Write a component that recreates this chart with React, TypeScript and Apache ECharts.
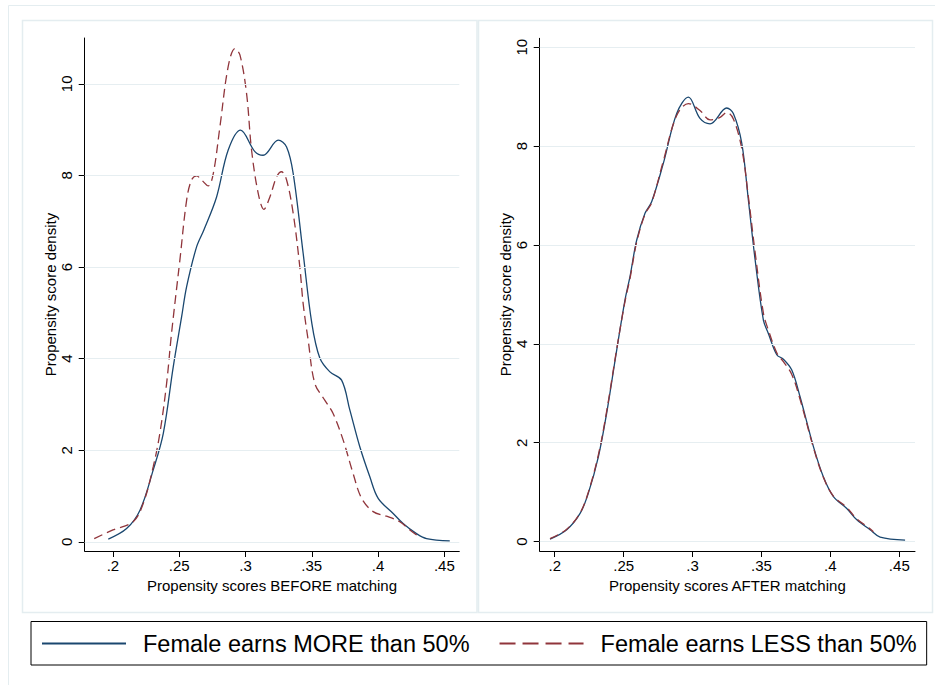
import React, { useEffect, useRef } from 'react';
import * as echarts from 'echarts';

const SERIES_NAMES = ['Female earns MORE than 50%', 'Female earns LESS than 50%'];
const X_TITLES = ['Propensity scores BEFORE matching', 'Propensity scores AFTER matching'];
const Y_TITLE = 'Propensity score density';
const X_TICKS = [0.2, 0.25, 0.3, 0.35, 0.4, 0.45];
const Y_TICKS = [0, 2, 4, 6, 8, 10];

// BEFORE matching
const BEFORE_MORE: [number, number][] = [
  [0.1965, 0.06], [0.2103, 0.29], [0.2204, 0.69], [0.2304, 1.57], [0.238, 2.37], [0.2455, 3.82],
  [0.2518, 4.91], [0.2556, 5.57], [0.2631, 6.44], [0.2686, 6.81], [0.2782, 7.53], [0.2869, 8.55],
  [0.2963, 8.99], [0.3071, 8.52], [0.3133, 8.44], [0.3247, 8.77], [0.331, 8.62], [0.336, 8.04],
  [0.3435, 6.3], [0.35, 4.78], [0.356, 4.02], [0.3637, 3.71], [0.3725, 3.53], [0.3787, 2.88],
  [0.3863, 2.07], [0.3938, 1.42], [0.4001, 0.95], [0.4114, 0.62], [0.4189, 0.4], [0.429, 0.18],
  [0.4366, 0.07], [0.4541, 0.02],
];
const BEFORE_LESS: [number, number][] = [
  [0.1859, 0.07], [0.2, 0.26], [0.2153, 0.44], [0.2229, 0.84], [0.2304, 1.64], [0.2354, 2.37],
  [0.2405, 3.46], [0.2442, 4.55], [0.2505, 6.15], [0.2556, 7.46], [0.2593, 7.9], [0.2631, 7.99],
  [0.2669, 7.9], [0.2719, 7.77], [0.2757, 8.04], [0.2807, 9.06], [0.2869, 10.37], [0.292, 10.77],
  [0.2958, 10.63], [0.3008, 9.79], [0.3046, 8.55], [0.3096, 7.61], [0.3139, 7.26], [0.3184, 7.53],
  [0.3235, 7.97], [0.3272, 8.08], [0.331, 7.9], [0.336, 7.17], [0.341, 6.0], [0.3435, 5.2],
  [0.3473, 4.4], [0.3523, 3.46], [0.3599, 3.09], [0.3661, 2.8], [0.3737, 2.22], [0.3812, 1.49],
  [0.3876, 0.95], [0.3963, 0.66], [0.4064, 0.56], [0.4164, 0.44], [0.424, 0.26], [0.4315, 0.1],
];

// AFTER matching
const AFTER_MORE: [number, number][] = [
  [0.1966, 0.05], [0.2087, 0.24], [0.2184, 0.57], [0.2244, 0.98], [0.2317, 1.72], [0.2377, 2.6],
  [0.245, 3.88], [0.251, 4.89], [0.2546, 5.36], [0.2595, 6.1], [0.2655, 6.64], [0.2704, 6.88],
  [0.2788, 7.65], [0.2885, 8.66], [0.297, 8.99], [0.3054, 8.56], [0.3127, 8.45], [0.3248, 8.77],
  [0.3296, 8.66], [0.3357, 8.06], [0.3405, 6.91], [0.3454, 5.7], [0.3514, 4.48], [0.355, 4.21],
  [0.3611, 3.78], [0.3659, 3.69], [0.372, 3.47], [0.378, 2.93], [0.3877, 1.92], [0.3949, 1.31],
  [0.4022, 0.91], [0.4119, 0.67], [0.4192, 0.44], [0.4288, 0.24], [0.4361, 0.09], [0.4542, 0.03],
];
const AFTER_LESS: [number, number][] = [
  [0.1966, 0.06], [0.2087, 0.25], [0.2184, 0.58], [0.2244, 1.0], [0.2317, 1.76], [0.2377, 2.64],
  [0.245, 3.9], [0.251, 4.86], [0.2546, 5.32], [0.2595, 6.06], [0.2655, 6.62], [0.2704, 6.86],
  [0.2788, 7.7], [0.2885, 8.62], [0.297, 8.86], [0.3054, 8.72], [0.3127, 8.53], [0.32, 8.58],
  [0.3248, 8.68], [0.3296, 8.55], [0.3357, 7.95], [0.3405, 6.98], [0.3454, 5.85], [0.3514, 4.62],
  [0.355, 4.28], [0.3611, 3.82], [0.3659, 3.64], [0.372, 3.38], [0.378, 2.88], [0.3877, 1.9],
  [0.3949, 1.3], [0.4022, 0.92], [0.4119, 0.69], [0.4192, 0.46], [0.4288, 0.26], [0.4312, 0.2],
];

const BLUE = '#1a476f';
const RED = '#90353b';
const FRAME = '#e4edf0';
const GRIDC = '#e6eef1';
const FONT = '"Liberation Sans", Arial, Helvetica, sans-serif';

const fmt = (v: number) => String(v).replace(/^0\./, '.');

function buildAxes(gi: number, xMin: number, xMax: number, yMin: number, yMax: number) {
  const xAxis = {
    type: 'value', gridIndex: gi, min: xMin, max: xMax,
    name: X_TITLES[gi], nameLocation: 'middle', nameGap: 23,
    nameTextStyle: { fontSize: 15, color: '#000', fontFamily: FONT },
    axisLine: { show: true, onZero: false, lineStyle: { color: '#000', width: 1 } },
    axisTick: { show: true, length: 6, customValues: X_TICKS, lineStyle: { color: '#000', width: 1 } },
    axisLabel: { customValues: X_TICKS, formatter: fmt, fontSize: 15, color: '#000', fontFamily: FONT, margin: 7 },
    splitLine: { show: false },
  };
  const yAxis = {
    type: 'value', gridIndex: gi, min: yMin, max: yMax,
    name: Y_TITLE, nameLocation: 'middle', nameGap: 27,
    nameTextStyle: { fontSize: 15, color: '#000', fontFamily: FONT },
    axisLine: { show: true, onZero: false, lineStyle: { color: '#000', width: 1 } },
    axisTick: { show: true, length: 6, customValues: Y_TICKS, lineStyle: { color: '#000', width: 1 } },
    axisLabel: { customValues: Y_TICKS, rotate: 90, fontSize: 15, color: '#000', fontFamily: FONT, margin: 11 },
    splitLine: { show: false },
  };
  return { xAxis, yAxis };
}

function gridSeries(gi: number) {
  return {
    type: 'line', xAxisIndex: gi, yAxisIndex: gi, data: [], silent: true, z: 1,
    markLine: {
      silent: true, symbol: ['none', 'none'], label: { show: false }, animation: false,
      lineStyle: { color: GRIDC, width: 1, type: 'solid' },
      data: Y_TICKS.map((v) => ({ yAxis: v })),
    },
  };
}

function curve(gi: number, idx: number, data: [number, number][]) {
  const dashed = idx === 1;
  return {
    type: 'line', name: SERIES_NAMES[idx], xAxisIndex: gi, yAxisIndex: gi, data,
    smooth: 0.35, symbol: 'none', z: 3,
    lineStyle: { color: dashed ? RED : BLUE, width: 1.3, type: dashed ? [9, 5] : 'solid' },
    itemStyle: { color: dashed ? RED : BLUE },
  };
}

export default function App() {
  const ref = useRef<HTMLDivElement>(null);
  useEffect(() => {
    if (!ref.current) return;
    const chart = echarts.init(ref.current, null, { renderer: 'svg' });
    const a0 = buildAxes(0, 0.1787, 0.4613, -0.2, 11);
    const a1 = buildAxes(1, 0.1891, 0.4614, -0.19, 10.18);
    const hidden = { color: 'rgba(0,0,0,0)', borderColor: 'rgba(0,0,0,0)', borderWidth: 0, opacity: 0 };
    chart.setOption({
      animation: false,
      backgroundColor: '#fff',
      textStyle: { fontFamily: FONT },
      grid: [
        { left: 84.7, top: 38, width: 374.6, height: 513 },
        { left: 539.7, top: 38.3, width: 375.3, height: 512.7 },
      ],
      xAxis: [a0.xAxis, a1.xAxis],
      yAxis: [a0.yAxis, a1.yAxis],
      legend: {
        left: 31, top: 621.5,
        padding: [10, 10, 9.5, 10],
        itemWidth: 84, itemHeight: 22, itemGap: 29,
        borderColor: '#000', borderWidth: 1,
        textStyle: { fontSize: 23.5, color: '#000', fontFamily: FONT, padding: [0, 0, 0, 12] },
        data: [
          { name: SERIES_NAMES[0], itemStyle: hidden, lineStyle: { width: 2, color: BLUE, type: 'solid' } },
          { name: SERIES_NAMES[1], itemStyle: hidden, lineStyle: { width: 2, color: RED, type: [16, 7] } },
        ],
      },
      graphic: [
        { type: 'rect', silent: true, shape: { x: 8.5, y: 5.5, width: 940, height: 700 }, style: { fill: 'none', stroke: FRAME, lineWidth: 1 } },
        { type: 'rect', silent: true, shape: { x: 22.5, y: 20.5, width: 454.5, height: 592 }, style: { fill: 'none', stroke: FRAME, lineWidth: 1.5 } },
        { type: 'rect', silent: true, shape: { x: 478.5, y: 20.5, width: 454, height: 592 }, style: { fill: 'none', stroke: FRAME, lineWidth: 1.5 } },
      ],
      series: [
        gridSeries(0), gridSeries(1),
        curve(0, 0, BEFORE_MORE), curve(0, 1, BEFORE_LESS),
        curve(1, 0, AFTER_MORE), curve(1, 1, AFTER_LESS),
      ],
    });
    return () => chart.dispose();
  }, []);
  return <div ref={ref} style={{ position: 'absolute', left: 0, top: 0, width: 935, height: 685 }} />;
}
